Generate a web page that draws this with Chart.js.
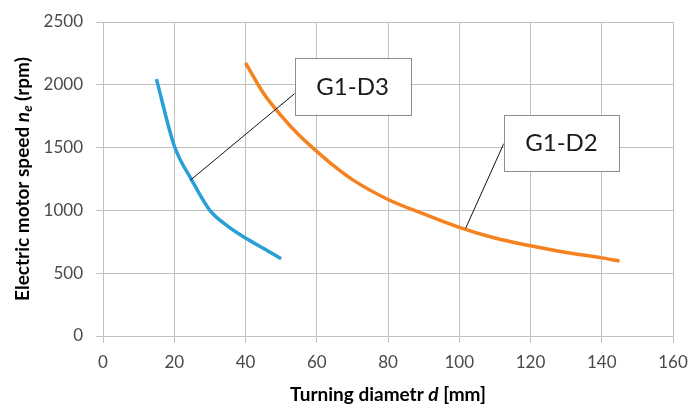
<!DOCTYPE html>
<html>
<head>
<meta charset="utf-8">
<script src="https://cdn.jsdelivr.net/npm/chart.js@4.4.1/dist/chart.umd.min.js"></script>
<style>
  html, body { margin: 0; padding: 0; background: #fff; }
  #wrap { width: 690px; height: 408px; position: relative; }
</style>
</head>
<body>
<div id="wrap"><canvas id="speedChart"></canvas></div>
<script>
// G1-D3 series (turning diameter d [mm] -> motor speed [rpm])
const d3Diameter = [15, 20, 25, 30, 35, 40, 45, 50];
const d3Speed = [2045, 1515, 1237, 1000, 875, 780, 698, 615];

// G1-D2 series
const d2Diameter = [40, 45, 50, 55, 60, 65, 70, 80, 90, 100, 110, 120, 130, 140, 145];
const d2Speed = [2175, 1935, 1755, 1600, 1470, 1350, 1245, 1087, 972, 865, 780, 718, 665, 622, 597];

const xTicks = [0, 20, 40, 60, 80, 100, 120, 140, 160];
const yTicks = [0, 500, 1000, 1500, 2000, 2500];

const seriesNames = ['G1-D3', 'G1-D2'];

// callout boxes, placed in data units
const callouts = [
    { text: 'G1-D3', box: [53.8, 86.3, 2216, 1765], from: 1930, to: [24.5, 1240] },
    { text: 'G1-D2', box: [112.5, 144.9, 1763, 1314], from: 1532, to: [101.8, 858] }
];

const FONT = 'Lato, "Open Sans", "DejaVu Sans", sans-serif';

function drawParts(ctx, parts, x, y) {
    // parts: [text, font, dy]
    let total = 0;
    parts.forEach(p => { ctx.font = p[1]; total += ctx.measureText(p[0]).width; });
    let cx = x - total / 2;
    parts.forEach(p => {
        ctx.font = p[1];
        ctx.fillText(p[0], cx, y + (p[2] || 0));
        cx += ctx.measureText(p[0]).width;
    });
}

const extrasPlugin = {
    id: 'extras',
    afterDatasetsDraw(chart) {
        const ctx = chart.ctx;
        const xs = chart.scales.x, ys = chart.scales.y;
        ctx.save();
        callouts.forEach(c => {
            const l = xs.getPixelForValue(c.box[0]);
            const r = xs.getPixelForValue(c.box[1]);
            const t = ys.getPixelForValue(c.box[2]);
            const b = ys.getPixelForValue(c.box[3]);
            ctx.strokeStyle = '#111';
            ctx.lineWidth = 1;
            ctx.beginPath();
            ctx.moveTo(l, ys.getPixelForValue(c.from));
            ctx.lineTo(xs.getPixelForValue(c.to[0]), ys.getPixelForValue(c.to[1]));
            ctx.stroke();
            ctx.fillStyle = '#fff';
            ctx.fillRect(l, t, r - l, b - t);
            ctx.strokeStyle = '#8c8c8c';
            ctx.strokeRect(Math.round(l) + 0.5, Math.round(t) + 0.5, Math.round(r - l), Math.round(b - t));
            ctx.fillStyle = '#1a1a1a';
            ctx.font = '24px ' + FONT;
            ctx.textAlign = 'center';
            ctx.textBaseline = 'middle';
            ctx.fillText(c.text, (l + r) / 2, (t + b) / 2 + 1);
        });
        ctx.restore();
    },
    afterDraw(chart) {
        const ctx = chart.ctx;
        const area = chart.chartArea;
        const bold = 'bold 19px ' + FONT;
        const boldIt = 'italic bold 19px ' + FONT;
        const sub = 'italic bold 13px ' + FONT;
        ctx.save();
        ctx.fillStyle = '#000';
        ctx.textAlign = 'left';
        ctx.textBaseline = 'middle';
        drawParts(ctx, [['Turning diametr ', bold], ['d', boldIt], [' [mm]', bold]],
            (area.left + area.right) / 2, 395);
        ctx.translate(23, (area.top + area.bottom) / 2);
        ctx.rotate(-Math.PI / 2);
        drawParts(ctx, [['Electric motor speed ', bold], ['n', boldIt], ['e', sub, 5], [' (rpm)', bold]], 0, 0);
        ctx.restore();
    }
};

new Chart(document.getElementById('speedChart'), {
    type: 'scatter',
    data: {
        datasets: [
            {
                label: seriesNames[0],
                data: d3Diameter.map((d, i) => ({ x: d, y: d3Speed[i] })),
                borderColor: '#2a9fd6',
                borderWidth: 3.5,
                showLine: true,
                pointRadius: 0,
                cubicInterpolationMode: 'monotone'
            },
            {
                label: seriesNames[1],
                data: d2Diameter.map((d, i) => ({ x: d, y: d2Speed[i] })),
                borderColor: '#f5821f',
                borderWidth: 3.5,
                showLine: true,
                pointRadius: 0,
                cubicInterpolationMode: 'monotone'
            }
        ]
    },
    options: {
        responsive: true,
        maintainAspectRatio: false,
        animation: false,
        layout: { padding: { top: 22, right: 17, left: 0, bottom: 0 } },
        plugins: { legend: { display: false }, tooltip: { enabled: false } },
        scales: {
            x: {
                type: 'linear',
                min: xTicks[0],
                max: xTicks[xTicks.length - 1],
                afterBuildTicks: s => { s.ticks = xTicks.map(v => ({ value: v })); },
                afterFit: s => { s.height = 72; s.paddingRight = 0; s.paddingLeft = 0; },
                grid: { color: '#c0c0c0', tickLength: 7 },
                border: { color: '#c0c0c0' },
                ticks: { color: '#4a4a4a', font: { size: 17, family: FONT }, padding: 9, maxRotation: 0,
                         callback: v => String(v) }
            },
            y: {
                min: yTicks[0],
                max: yTicks[yTicks.length - 1],
                afterBuildTicks: s => { s.ticks = yTicks.map(v => ({ value: v })); },
                afterFit: s => { s.width = 103; s.paddingTop = 0; s.paddingBottom = 0; },
                grid: { color: '#c0c0c0', tickLength: 7 },
                border: { color: '#c0c0c0' },
                ticks: { color: '#4a4a4a', font: { size: 17, family: FONT }, padding: 13,
                         callback: v => String(v) }
            }
        }
    },
    plugins: [extrasPlugin]
});
</script>
</body>
</html>
